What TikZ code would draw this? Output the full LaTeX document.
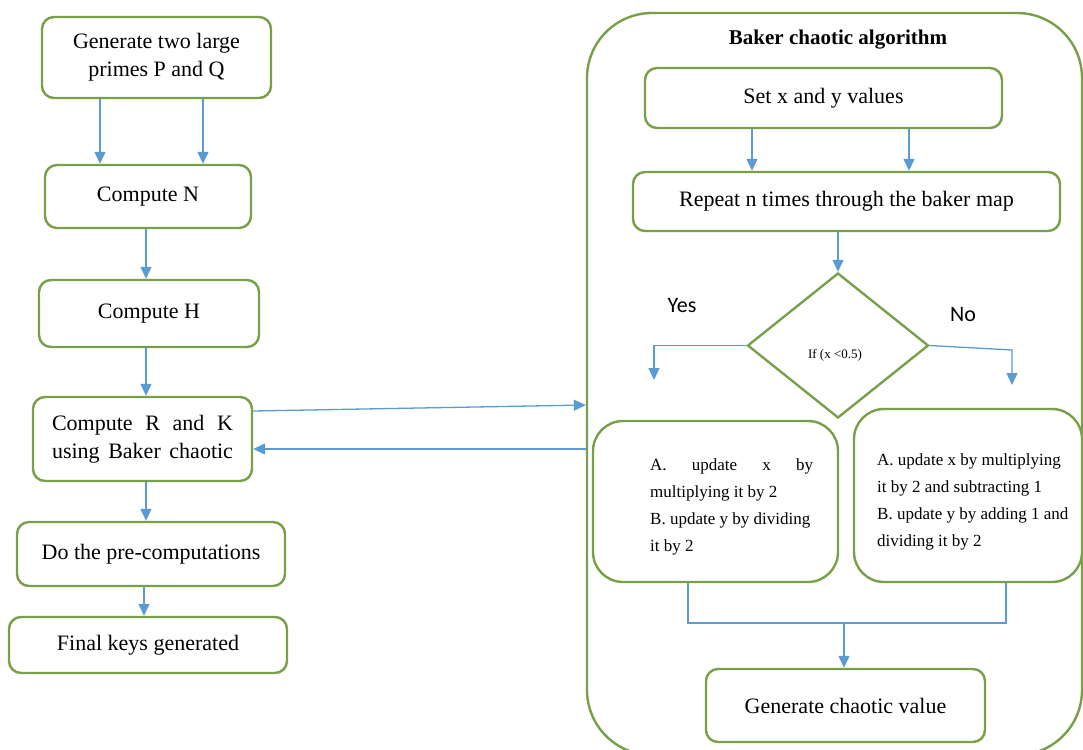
\documentclass[tikz,border=0pt]{standalone}
\usepackage{fontspec}
\setmainfont{Liberation Serif}
\newfontfamily\labelsans{Carlito}
\usetikzlibrary{arrows.meta,shapes.geometric}
\definecolor{boxgreen}{RGB}{119,160,73}
\definecolor{flowblue}{RGB}{91,155,213}
\tikzset{
  stepbox/.style={draw=boxgreen, line width=2.4pt, rounded corners=12pt, fill=white,
    align=center, inner sep=0pt, font=\fontsize{22}{28}\selectfont},
  updbox/.style={draw=boxgreen, line width=2.4pt, rounded corners=30pt, fill=white, inner sep=0pt},
  updtext/.style={align=left, anchor=west, inner sep=0pt, font=\fontsize{17}{27}\selectfont},
  flow/.style={draw=flowblue, line width=1.3pt},
  flowarr/.style={flow, -{Triangle[width=11pt,length=12pt]}},
  branchlabel/.style={font=\labelsans\fontsize{22}{26}\selectfont, inner sep=0pt}
}
\begin{document}
\begin{tikzpicture}[x=1pt, y=-1pt]
\useasboundingbox (0,0) rectangle (1083,749);
\clip (0,0) rectangle (1083,749);
\fill[white] (0,0) rectangle (1083,749);

% ---- key generation column ----
\node[stepbox, minimum width=229pt, minimum height=81pt] (gen) at (156.5,57.5)
  {Generate two large\\primes P and Q};
\node[stepbox, minimum width=206pt, minimum height=63pt] (compN) at (148,196.5) {Compute N};
\node[stepbox, minimum width=220pt, minimum height=67pt] (compH) at (149,313.5) {Compute H};
\node[stepbox, minimum width=219pt, minimum height=84pt, align=left] (compRK) at (142.5,439)
  {\parbox{181pt}{Compute\hfill R\hfill and\hfill K\\using\hfill Baker\hfill chaotic}};
\node[stepbox, minimum width=268pt, minimum height=64pt] (pre) at (151,554) {Do the pre-computations};
\node[stepbox, minimum width=278pt, minimum height=56pt] (final) at (148,645) {Final keys generated};

\draw[flowarr] ([xshift=-56.5pt]gen.south) -- ([xshift=-56.5pt]gen.south |- compN.north);
\draw[flowarr] ([xshift=46.5pt]gen.south) -- ([xshift=46.5pt]gen.south |- compN.north);
\draw[flowarr] ([xshift=-2pt]compN.south) -- ([xshift=-2pt]compN.south |- compH.north);
\draw[flowarr] ([xshift=-3pt]compH.south) -- ([xshift=-3pt]compH.south |- compRK.north);
\draw[flowarr] ([xshift=3.5pt]compRK.south) -- ([xshift=3.5pt]compRK.south |- pre.north);
\draw[flowarr] ([xshift=-7pt]pre.south) -- ([xshift=-7pt]pre.south |- final.north);

% ---- Baker chaotic algorithm frame ----
\node[draw=boxgreen, line width=2.4pt, rounded corners=65pt, minimum width=495pt,
  minimum height=742pt, inner sep=0pt] (baker) at (834.5,384) {};
\node[font=\bfseries\fontsize{21}{24}\selectfont, inner sep=0pt] (title) at (838,40)
  {Baker chaotic algorithm};

\node[stepbox, minimum width=357pt, minimum height=60pt] (setxy) at (823.5,98) {Set x and y values};
\node[stepbox, minimum width=427pt, minimum height=59pt] (repeat) at (846.5,201.5)
  {Repeat n times through the baker map};
\node[draw=boxgreen, line width=2.4pt, diamond, fill=white, minimum width=181pt,
  minimum height=145pt, inner sep=0pt] (dia) at (838,345.5) {};
\node[font=\fontsize{13}{15}\selectfont, inner sep=0pt] (cond) at (835,355) {If (x <0.5)};
\node[branchlabel] (yes) at (682,306) {Yes};
\node[branchlabel] (no) at (963,315) {No};

\node[updbox, minimum width=245pt, minimum height=161pt] (yesbox) at (715.5,501.5) {};
\node[updtext] (yestext) at (650,507)
  {\makebox[163pt][s]{A.\hfill update\hfill x\hfill by}\\multiplying it by 2\\B. update y by dividing\\it by 2};
\node[updbox, minimum width=228pt, minimum height=173pt] (nobox) at (968,495.5) {};
\node[updtext] (notext) at (877,502)
  {A. update x by multiplying\\it by 2 and subtracting 1\\B. update y by adding 1 and\\dividing it by 2};

\node[stepbox, minimum width=279pt, minimum height=73pt] (chaotic) at (845.5,705.5)
  {Generate chaotic value};

\coordinate (yesend) at (654,380);
\coordinate (noturn) at (1012,350);
\coordinate (noend) at (1012,385);
\coordinate (merge) at (844,623);

\draw[flowarr] ([xshift=-71.5pt]setxy.south) -- ([xshift=-71.5pt]setxy.south |- repeat.north);
\draw[flowarr] ([xshift=85.5pt]setxy.south) -- ([xshift=85.5pt]setxy.south |- repeat.north);
\draw[flowarr] ([xshift=-8.5pt]repeat.south) -- (dia.north);
\draw[flowarr] (dia.west) -| (yesend);
\draw[flowarr] (dia.east) -- (noturn) -- (noend);
\draw[flow] ([xshift=-27.5pt]yesbox.south) |- (merge)
  -| ([xshift=38pt]nobox.south);
\draw[flowarr] (merge) -- (merge |- chaotic.north);

% ---- links between the two parts ----
\draw[flowarr] ([yshift=28pt]compRK.east) -- ([yshift=-21pt]baker.west);
\draw[flowarr] ([yshift=-65pt]baker.west) -- ([yshift=-10pt]compRK.east);
\end{tikzpicture}
\end{document}
